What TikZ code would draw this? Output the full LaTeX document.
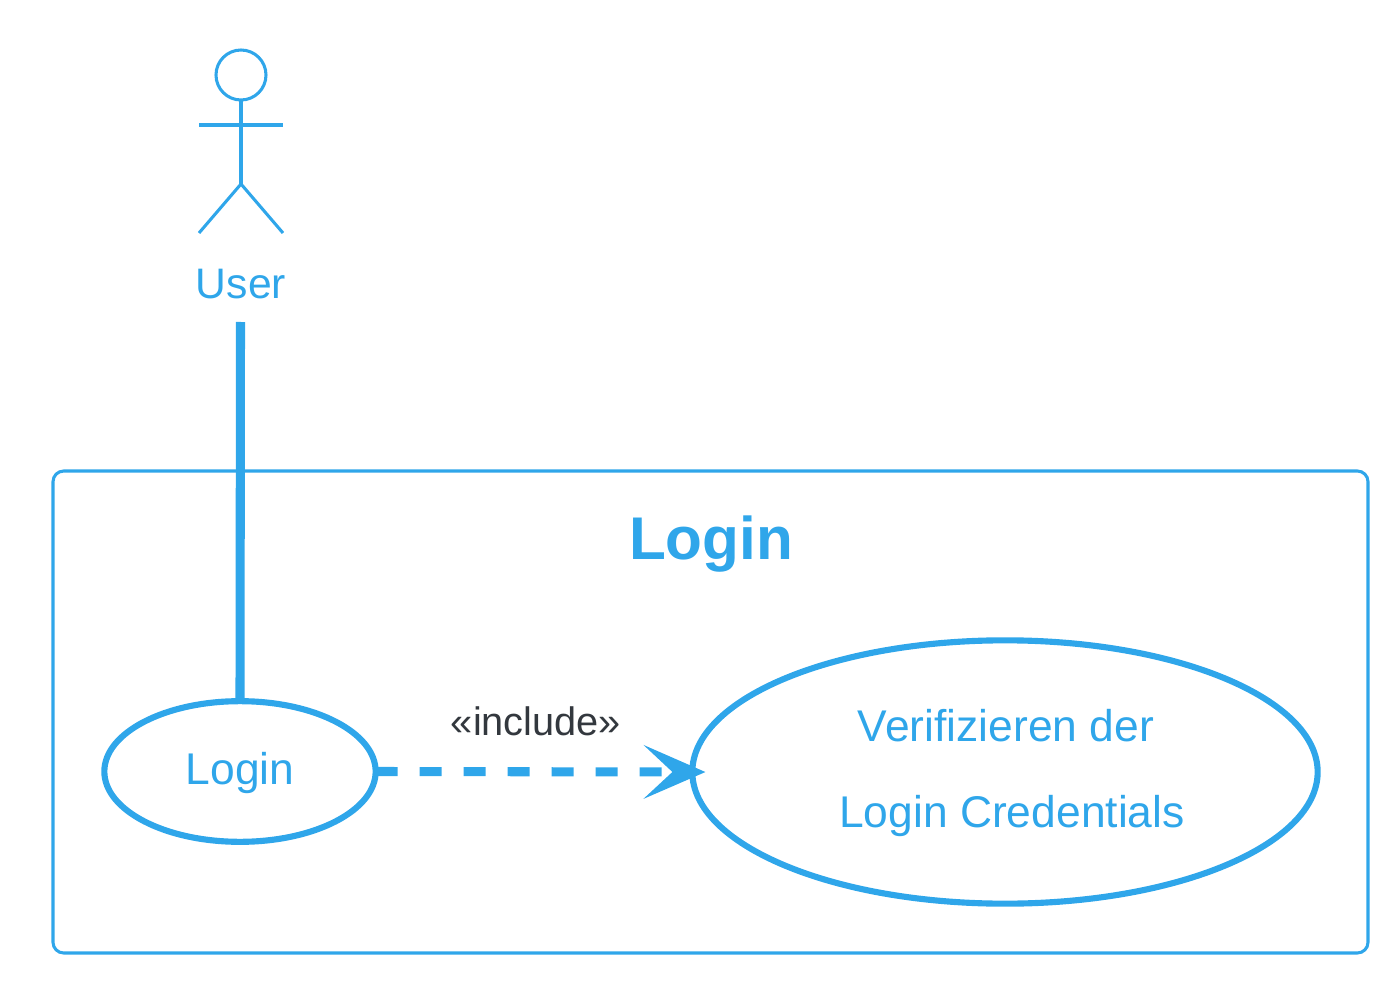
\documentclass[tikz,border=0pt]{standalone}
\usepackage{fontspec}
\setmainfont{Liberation Sans}
\usetikzlibrary{shapes.geometric,arrows.meta}
\definecolor{umlblue}{HTML}{2FA6EA}
\definecolor{umldark}{HTML}{33383E}
\tikzset{
  usecase/.style={draw=umlblue,ellipse,line width=4.6pt,inner sep=0pt,outer sep=0pt,fill=none},
  umltext/.style={text=umlblue,font=\fontsize{33.3}{36}\selectfont,anchor=base,inner sep=0pt},
  actortext/.style={text=umlblue,font=\fontsize{32}{36}\selectfont,anchor=base,inner sep=0pt},
  titletext/.style={text=umlblue,font=\fontsize{45.2}{50}\selectfont\bfseries,anchor=base,inner sep=0pt},
  stereotype/.style={text=umldark,font=\fontsize{29.8}{34}\selectfont,anchor=base,inner sep=0pt},
  thinline/.style={draw=umlblue,line width=2.3pt},
  assoc/.style={draw=umlblue,line width=6.8pt},
  incl/.style={draw=umlblue,line width=6.8pt,dash pattern=on 16.5pt off 16.5pt,shorten >=-9.8pt,
    -{Stealth[length=46.5pt,width=40.5pt,inset=21.75pt,line width=0pt,fill=umlblue]}}
}
\begin{document}
\begin{tikzpicture}[x=0.75pt,y=-0.75pt]
\useasboundingbox (0,0) rectangle (1400,984);
% system boundary
\draw[thinline,rounded corners=8pt] (53,471) rectangle (1368,953);
\node[titletext] (title) at (711,559) {Login};
% actor
\node[thinline,circle,minimum size=37.5pt,inner sep=0pt,outer sep=0pt] (head) at (241,75) {};
\coordinate (hip) at (241,184);
\coordinate (armL) at (199,125);
\coordinate (armR) at (283,125);
\coordinate (footL) at (199,233);
\coordinate (footR) at (283,233);
\draw[thinline] (head.south) -- (hip);
\draw[thinline] (armL) -- (armR);
\draw[thinline] (footL) -- (hip) -- (footR);
\node[actortext] (user) at (241,298.5) {User};
\coordinate (userfoot) at (240.5,322);
% use cases
\node[usecase,minimum width=203.5pt,minimum height=105.5pt] (login) at (240,771.5) {};
\node[usecase,minimum width=469pt,minimum height=197.5pt] (verify) at (1005,772) {};
\node[umltext] (logintext) at (240,784) {Login};
\node[umltext] (verify1) at (1006,741) {Verifizieren der};
\node[umltext] (verify2) at (1012,827) {Login Credentials};
% connectors
\draw[assoc] (userfoot) -- (login.north);
\draw[incl] (login.east) -- (verify.west);
\node[stereotype] (incllabel) at (536,735) {«include»};
\end{tikzpicture}
\end{document}
